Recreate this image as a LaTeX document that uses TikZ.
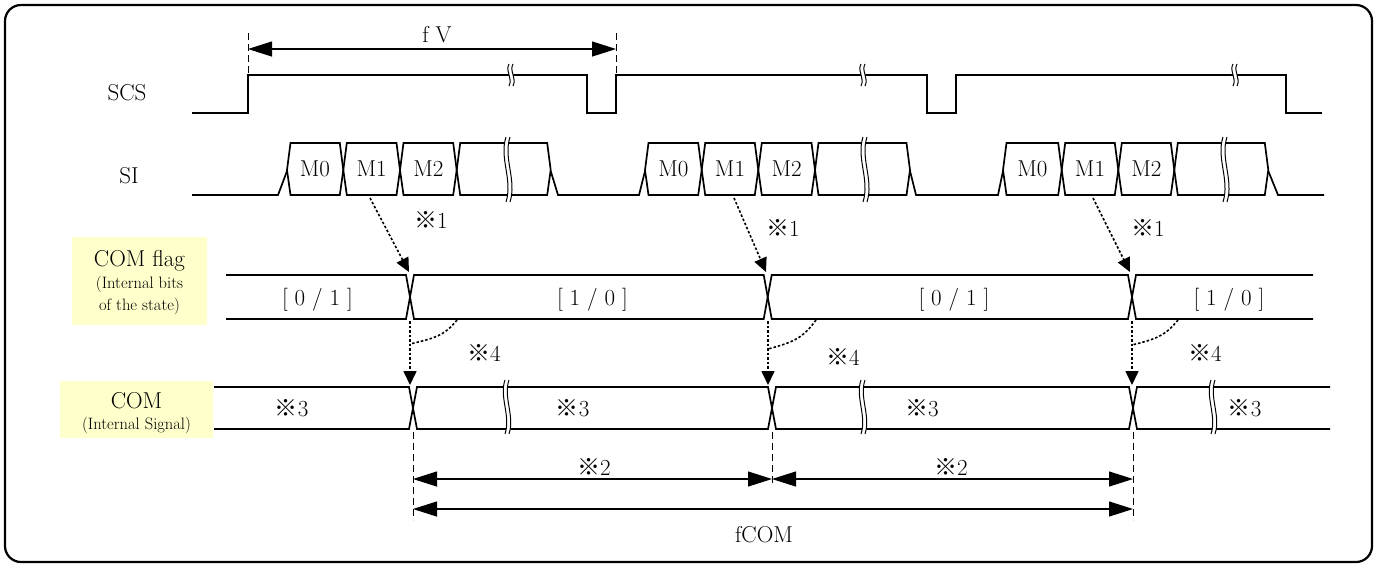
\documentclass[tikz,border=0pt]{standalone}
\usepackage{fontspec}
\newfontfamily\cjk{Noto Sans CJK JP}
\usetikzlibrary{arrows.meta}
\definecolor{ylw}{HTML}{FFFFCC}
\newcommand\kome{{\cjk\char"203B}}
\begin{document}
\begin{tikzpicture}[x=1pt,y=-1pt,
  wave/.style={line width=1.7pt, line join=miter},
  lbl/.style={inner sep=0pt, text depth=0pt, font=\fontsize{23}{27}\selectfont},
  small/.style={inner sep=0pt, text depth=0pt, font=\fontsize{16.5}{19}\selectfont},
  dotarrow/.style={line width=1.6pt, dash pattern=on 2.5pt off 2pt, -{Triangle[length=14pt,width=13pt]}},
  dotline/.style={line width=1.6pt, dash pattern=on 2.5pt off 2pt},
  dimarrow/.style={line width=1.2pt, {Triangle[length=24pt,width=15pt]}-{Triangle[length=24pt,width=15pt]}},
  guide/.style={line width=0.9pt, dash pattern=on 7pt off 4pt},
  brk/.style={line width=1pt},
  ylbox/.style={fill=ylw, draw=none}]
\useasboundingbox (0,0) rectangle (1377,566);
% frame
\draw[line width=2.2pt, rounded corners=16pt] (5,5) rectangle (1372,562);

% labels
\node[lbl] (scs) at (127,92) {SCS};
\node[lbl] (si) at (129,175) {SI};
\fill[ylbox] (72,237) rectangle (207,325);
\node[lbl] (flagA) at (139.5,258) {COM flag};
\node[small] (flagB) at (139.5,282) {(Internal bits};
\node[small] (flagC) at (139.5,304) {of the state)};
\fill[ylbox] (60,381) rectangle (213,438);
\node[lbl] (comA) at (136.5,400) {COM};
\node[small] (comB) at (136.5,423) {(Internal Signal)};

% SCS waveform
\draw[wave] (192,113) -- (248,113) -- (248,75) -- (587,75) -- (587,113) -- (616,113) -- (616,75)
  -- (927,75) -- (927,113) -- (956,113) -- (956,75) -- (1286,75) -- (1286,113) -- (1322,113);
\foreach \x in {511,863,1235}{
  \fill[white] (\x-2,64) .. controls (\x-6,71) and (\x+2,78) .. (\x-2,86) -- (\x+2,86) .. controls (\x+6,78) and (\x-2,71) .. (\x+2,64) -- cycle;
  \draw[brk] (\x-2,64) .. controls (\x-6,71) and (\x+2,78) .. (\x-2,86);
  \draw[brk] (\x+2,64) .. controls (\x-2,71) and (\x+6,78) .. (\x+2,86);
}

% fV dimension
\draw[guide] (248,33) -- (248,75);
\draw[guide] (616,33) -- (616,75);
\coordinate (fvL) at (248,49);
\coordinate (fvR) at (616,49);
\draw[dimarrow] (fvL) -- (fvR);
\node[lbl] (fv) at (437,34) {f V};

% SI waveform
\draw[wave] (192,195) -- (278,195) -- (287,171);
\draw[wave] (550.7,171) -- (558,195) -- (639,195) -- (645,171);
\draw[wave] (910,171) -- (916,195) -- (998,195) -- (1003,171);
\draw[wave] (1268.3,171) -- (1278,195) -- (1324,195);
\foreach \a/\b in {287/343.3, 343.3/400, 400/456.7, 456.7/550.7,
                   645/701.7, 701.7/758.3, 758.3/815, 815/910,
                   1003/1061.7, 1061.7/1118.3, 1118.3/1174.3, 1174.3/1268.3}
  \draw[wave] (\a+3.5,143) -- (\b-3.5,143) -- (\b,170) -- (\b-3.5,195) -- (\a+3.5,195) -- (\a,170) -- cycle;
\node[lbl] (m0a) at (315,169) {M0};
\node[lbl] (m1a) at (371.7,169) {M1};
\node[lbl] (m2a) at (428.3,169) {M2};
\node[lbl] (m0b) at (673.3,169) {M0};
\node[lbl] (m1b) at (730,169) {M1};
\node[lbl] (m2b) at (786.7,169) {M2};
\node[lbl] (m0c) at (1032.3,169) {M0};
\node[lbl] (m1c) at (1090,169) {M1};
\node[lbl] (m2c) at (1146.3,169) {M2};
\foreach \x in {508,865,1225}{
  \fill[white] (\x-2,137) .. controls (\x-9,158) and (\x+5,180) .. (\x-2,202) -- (\x+2,202) .. controls (\x+9,180) and (\x-5,158) .. (\x+2,137) -- cycle;
  \draw[brk] (\x-2,137) .. controls (\x-9,158) and (\x+5,180) .. (\x-2,202);
  \draw[brk] (\x+2,137) .. controls (\x-5,158) and (\x+9,180) .. (\x+2,202);
}

% COM flag row
\draw[wave] (226,275) -- (406,275) -- (410,297) -- (406,319) -- (226,319);
\foreach \a/\b in {410/767.7, 767.7/1132}
  \draw[wave] (\a+4,275) -- (\b-4,275) -- (\b,297) -- (\b-4,319) -- (\a+4,319) -- (\a,297) -- cycle;
\draw[wave] (1313,275) -- (1136,275) -- (1132,297) -- (1136,319) -- (1313,319);
\node[lbl] (fa) at (317.5,297) {[ 0 / 1 ]};
\node[lbl] (fb) at (592.5,297) {[ 1 / 0 ]};
\node[lbl] (fc) at (954,297) {[ 0 / 1 ]};
\node[lbl] (fd) at (1229,297) {[ 1 / 0 ]};

% COM row
\draw[wave] (214,387) -- (409,387) -- (413,408) -- (409,429) -- (214,429);
\foreach \a/\b in {413/772, 772/1133}
  \draw[wave] (\a+4,387) -- (\b-4,387) -- (\b,408) -- (\b-4,429) -- (\a+4,429) -- (\a,408) -- cycle;
\draw[wave] (1330,387) -- (1137,387) -- (1133,408) -- (1137,429) -- (1330,429);
\foreach \x in {507,863,1213}{
  \fill[white] (\x-2,380) .. controls (\x-8,397) and (\x+4,416) .. (\x-2,434) -- (\x+2,434) .. controls (\x+8,416) and (\x-4,397) .. (\x+2,380) -- cycle;
  \draw[brk] (\x-2,380) .. controls (\x-8,397) and (\x+4,416) .. (\x-2,434);
  \draw[brk] (\x+2,380) .. controls (\x-4,397) and (\x+8,416) .. (\x+2,434);
}
\node[lbl] (ca) at (291.7,408) {\kome3};
\node[lbl] (cb) at (572.7,408) {\kome3};
\node[lbl] (cc) at (921.8,408) {\kome3};
\node[lbl] (cd) at (1244.6,408) {\kome3};

% SI -> COM flag arrows
\coordinate (s1) at (370,198);
\coordinate (t1) at (409,272);
\coordinate (s2) at (734,198);
\coordinate (t2) at (766,272);
\coordinate (s3) at (1093,198);
\coordinate (t3) at (1130,272);
\draw[dotarrow] (s1) -- (t1);
\draw[dotarrow] (s2) -- (t2);
\draw[dotarrow] (s3) -- (t3);
\node[lbl] (n1a) at (431,220) {\kome1};
\node[lbl] (n1b) at (783,228) {\kome1};
\node[lbl] (n1c) at (1148,228) {\kome1};

% COM flag -> COM arrows
\coordinate (u1) at (410,321);
\coordinate (v1) at (410,385);
\coordinate (u2) at (768,321);
\coordinate (v2) at (768,385);
\coordinate (u3) at (1132,321);
\coordinate (v3) at (1132,385);
\draw[dotarrow] (u1) -- (v1);
\draw[dotarrow] (u2) -- (v2);
\draw[dotarrow] (u3) -- (v3);
\draw[dotline] (457,320) .. controls (444,336) and (435,338) .. (410,344);
\draw[dotline] (816,320) .. controls (803,338) and (794,342) .. (768,349);
\draw[dotline] (1178,320) .. controls (1165,336) and (1156,339) .. (1132,345);
\node[lbl] (n4a) at (484,353) {\kome4};
\node[lbl] (n4b) at (843,357) {\kome4};
\node[lbl] (n4c) at (1205,353) {\kome4};

% period dimensions
\draw[guide] (413,432) -- (413,520);
\draw[guide] (772,432) -- (772,486);
\draw[guide] (1133,432) -- (1133,520);
\coordinate (p1) at (413,479);
\coordinate (p2) at (772,479);
\coordinate (p3) at (1133,479);
\coordinate (q1) at (413,509);
\coordinate (q3) at (1133,509);
\draw[dimarrow] (p1) -- (p2);
\draw[dimarrow] (p2) -- (p3);
\draw[dimarrow] (q1) -- (q3);
\node[lbl] (n2a) at (594,467) {\kome2};
\node[lbl] (n2b) at (951,467) {\kome2};
\node[lbl] (fcom) at (764,534) {fCOM};
\end{tikzpicture}
\end{document}
